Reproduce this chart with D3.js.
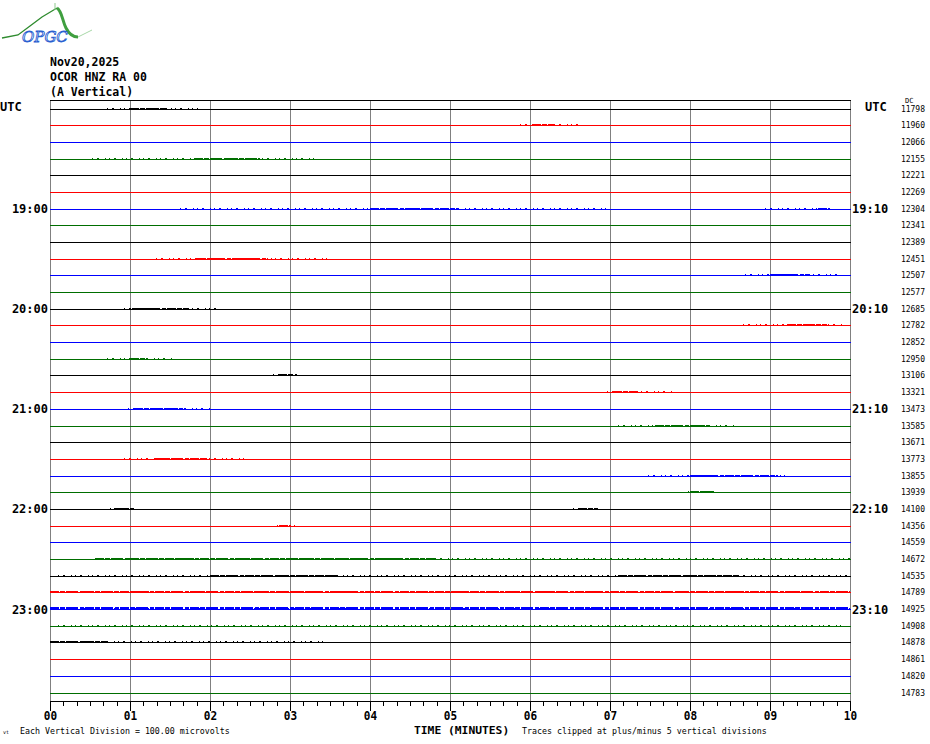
<!DOCTYPE html>
<html><head><meta charset="utf-8">
<script src="https://cdn.jsdelivr.net/npm/d3@7"></script>
<style>
html,body{margin:0;padding:0;background:#fff;}
svg{display:block;}
</style></head>
<body>
<script>
// ---- data ----
const headerLines = ["Nov20,2025", "OCOR HNZ RA 00", "(A Vertical)"];
const minuteTicks = [0,1,2,3,4,5,6,7,8,9,10];
const minorTicks = d3.range(0, 60.5, 1).map(d => d / 6);
const traceColors = ["#000000", "#ff0000", "#0000ff", "#006e00"];
const dcValues = [11798,11960,12066,12155,12221,12269,12304,12341,12389,12451,12507,12577,
  12685,12782,12852,12950,13106,13321,13473,13585,13671,13773,13855,13939,
  14100,14356,14559,14672,14535,14789,14925,14908,14878,14861,14820,14783];
const hourTraces = [6,12,18,24,30];
const leftHourLabels = ["19:00","20:00","21:00","22:00","23:00"];
const rightHourLabels = ["19:10","20:10","21:10","22:10","23:10"];
// bursts: trace index, sparse start, dense start, dense end, sparse end (minutes), amplitude (microvolts)
const burstTrace  = [0,    1,    3,    6,    6,    9,    10,   12,   13,   15,   16,   17,   18,   19,   21,   22,   23,   24,   24,   25,   27,   28,   28,   29,   30,   31,   32];
const burstSStart = [0.71, 5.87, 0.52, 1.63, 8.94, 1.33, 8.69, 0.92, 8.66, 0.71, 2.79, 6.96, 0.98, 7.10, 0.92, 7.48, 7.98, 0.75, 6.54, 2.84, 0.56, 0.10, 0.10, 0.00, 0.00, 0.10, 0.00];
const burstDStart = [1.00, 6.03, 1.80, 4.00, 9.60, 1.84, 9.00, 1.03, 9.21, 1.00, 2.85, 7.04, 1.05, 7.56, 1.31, 8.00, 8.00, 0.80, 6.60, 2.86, 0.56, 2.00, 7.10, 0.00, 0.00, 0.10, 0.00];
const burstDEnd   = [1.46, 6.30, 2.63, 5.10, 9.75, 2.73, 9.50, 1.73, 9.71, 1.21, 3.05, 7.35, 1.66, 8.25, 1.96, 9.10, 8.30, 1.05, 6.85, 3.00, 4.81, 3.60, 8.60, 10.0, 10.0, 0.10, 0.70];
const burstSEnd   = [1.85, 6.60, 3.31, 7.00, 9.78, 3.50, 9.87, 2.09, 9.94, 1.53, 3.13, 7.81, 2.00, 8.56, 2.46, 9.19, 8.35, 1.13, 6.88, 3.06, 10.0, 10.0, 10.0, 10.0, 10.0, 9.90, 3.44];
const burstAmp    = [60,   60,   60,   60,   60,   60,   60,   60,   60,   60,   60,   60,   60,   60,   60,   60,   60,   60,   60,   60,   60,   60,   60,   60,   120,  60,   60];

// ---- layout ----
const W = 930, H = 744;
const svg = d3.select("body").append("svg").attr("width", W).attr("height", H);
const x = d3.scaleLinear().domain([0, 10]).range([50, 850]);
const y = d3.scaleLinear().domain([0, dcValues.length - 1]).range([108.5, 692.5]);
// microvolts to pixels: 10 divisions per trace spacing, 100 uV per division
const pxPerUv = (y(1) - y(0)) / 10 / 100;
const mono = "'DejaVu Sans Mono', monospace";

// logo
const logo = svg.append("g");
logo.append("path").attr("d", "M2,38 L18,35 L30,26 L42,17 L52,11 L57,8")
  .attr("fill", "none").attr("stroke", "#2e8b2e").attr("stroke-width", 1.3);
logo.append("line").attr("x1", 55).attr("y1", 3).attr("x2", 55).attr("y2", 10)
  .attr("stroke", "#8fc98f").attr("stroke-width", 1);
logo.append("path").attr("d", "M57,8 C62,11 62,20 66,28 C69,34 73,37 78,37")
  .attr("fill", "none").attr("stroke", "#3f9f3f").attr("stroke-width", 3);
logo.append("path").attr("d", "M78,37 L92,30")
  .attr("fill", "none").attr("stroke", "#a8d8a8").attr("stroke-width", 1);
logo.append("text").attr("x", 22).attr("y", 42).text("OPGC")
  .attr("font-family", "'DejaVu Serif', serif").attr("font-style", "italic")
  .attr("font-size", 15).attr("fill", "#fff").attr("stroke", "#2a5fd0").attr("stroke-width", 0.9);

// header
svg.append("g").selectAll("text").data(headerLines).join("text")
  .attr("x", 50).attr("y", (d, i) => 66 + i * 15).text(d => d)
  .attr("font-family", mono).attr("font-weight", "bold").attr("font-size", 11.5).attr("fill", "#000");

// grid verticals
svg.append("g").attr("shape-rendering", "crispEdges").selectAll("line").data(minuteTicks).join("line")
  .attr("x1", d => Math.round(x(d)) + 0.5).attr("x2", d => Math.round(x(d)) + 0.5)
  .attr("y1", 101).attr("y2", 701).attr("stroke", "#808080").attr("stroke-width", 1);
// top line
svg.append("line").attr("x1", 50).attr("x2", 851).attr("y1", 100.5).attr("y2", 100.5)
  .attr("stroke", "#000").attr("shape-rendering", "crispEdges");

// traces
const traces = svg.append("g").attr("shape-rendering", "crispEdges");
traces.selectAll("line").data(dcValues).join("line")
  .attr("x1", x(0)).attr("x2", x(10) + 1)
  .attr("y1", (d, i) => Math.round(y(i)) + 0.5).attr("y2", (d, i) => Math.round(y(i)) + 0.5)
  .attr("stroke", (d, i) => traceColors[i % 4]).attr("stroke-width", 1);

const bursts = burstTrace.map((t, i) => ({t, s0: burstSStart[i], d0: burstDStart[i], d1: burstDEnd[i], s1: burstSEnd[i], a: burstAmp[i]}));
const bg = svg.append("g").attr("shape-rendering", "crispEdges");
// sparse spikes
bg.selectAll("line.sp").data(bursts).join("line").attr("class", "sp")
  .attr("x1", d => x(d.s0)).attr("x2", d => x(d.s1))
  .attr("y1", d => Math.round(y(d.t)) - 0.5).attr("y2", d => Math.round(y(d.t)) - 0.5)
  .attr("stroke", d => traceColors[d.t % 4]).attr("stroke-width", 1)
  .attr("stroke-dasharray", "1,4,2,6,1,3");
// dense parts
bg.selectAll("line.dn").data(bursts.filter(d => d.d1 > d.d0)).join("line").attr("class", "dn")
  .attr("x1", d => x(d.d0)).attr("x2", d => x(d.d1))
  .attr("y1", d => Math.round(y(d.t)) + 1 - (Math.round(d.a * pxPerUv) + 1) / 2)
  .attr("y2", d => Math.round(y(d.t)) + 1 - (Math.round(d.a * pxPerUv) + 1) / 2)
  .attr("stroke-width", d => Math.round(d.a * pxPerUv) + 1)
  .attr("stroke", d => traceColors[d.t % 4])
  .attr("stroke-dasharray", "9,1,5,1,12,2,4,1");

// left/right labels
const lab = svg.append("g").attr("font-family", mono).attr("font-weight", "bold").attr("font-size", 12).attr("fill", "#000");
lab.append("text").attr("x", 0).attr("y", 111).text("UTC");
lab.append("text").attr("x", 865).attr("y", 111).text("UTC");
lab.selectAll("text.l").data(hourTraces).join("text").attr("class", "l")
  .attr("x", 48).attr("text-anchor", "end").attr("y", d => y(d) + 4.5).text((d, i) => leftHourLabels[i]);
lab.selectAll("text.r").data(hourTraces).join("text").attr("class", "r")
  .attr("x", 852).attr("y", d => y(d) + 4.5).text((d, i) => rightHourLabels[i]);

// DC values
svg.append("g").selectAll("text").data(dcValues).join("text")
  .attr("x", 925).attr("text-anchor", "end").attr("y", (d, i) => y(i) + 3).text(d => d)
  .attr("font-family", mono).attr("font-size", 8).attr("fill", "#000");
svg.append("text").attr("x", 905).attr("y", 103).text("DC")
  .attr("font-family", mono).attr("font-size", 7).attr("fill", "#000");

// bottom axis
const axisG = svg.append("g").attr("transform", "translate(0,701)");
axisG.call(d3.axisBottom(x).tickValues(minorTicks).tickSize(5).tickFormat(""))
  .call(g => g.select(".domain").remove());
const majorG = svg.append("g").attr("transform", "translate(0,701)");
majorG.call(d3.axisBottom(x).tickValues(minuteTicks).tickSize(10).tickPadding(0)
    .tickFormat(d3.format("02d")))
  .call(g => g.select(".domain").attr("d", `M${x(0)},0.5H${x(10) + 1}`).attr("stroke", "#000"))
  .call(g => g.selectAll("line").attr("stroke", "#000"))
  .call(g => g.selectAll("text").attr("font-family", mono).attr("font-weight", "bold")
    .attr("font-size", 13).attr("fill", "#000").attr("dy", "0.68em")
    .attr("transform", "scale(0.85,1)"));
svg.selectAll("g.tick line").attr("shape-rendering", "crispEdges");
axisG.selectAll("line").attr("stroke", "#000");

// footer
const foot = svg.append("g").attr("font-family", mono).attr("fill", "#000");
foot.append("text").attr("x", 3).attr("y", 734).text("vt").attr("font-size", 5);
foot.append("text").attr("x", 20).attr("y", 734).text("Each Vertical Division =  100.00 microvolts").attr("font-size", 8.3);
foot.append("text").attr("x", 414).attr("y", 734).text("TIME (MINUTES)").attr("font-size", 11.3).attr("font-weight", "bold");
foot.append("text").attr("x", 522).attr("y", 734).text("Traces clipped at plus/minus 5 vertical divisions").attr("font-size", 8.3);
</script>
</body></html>
